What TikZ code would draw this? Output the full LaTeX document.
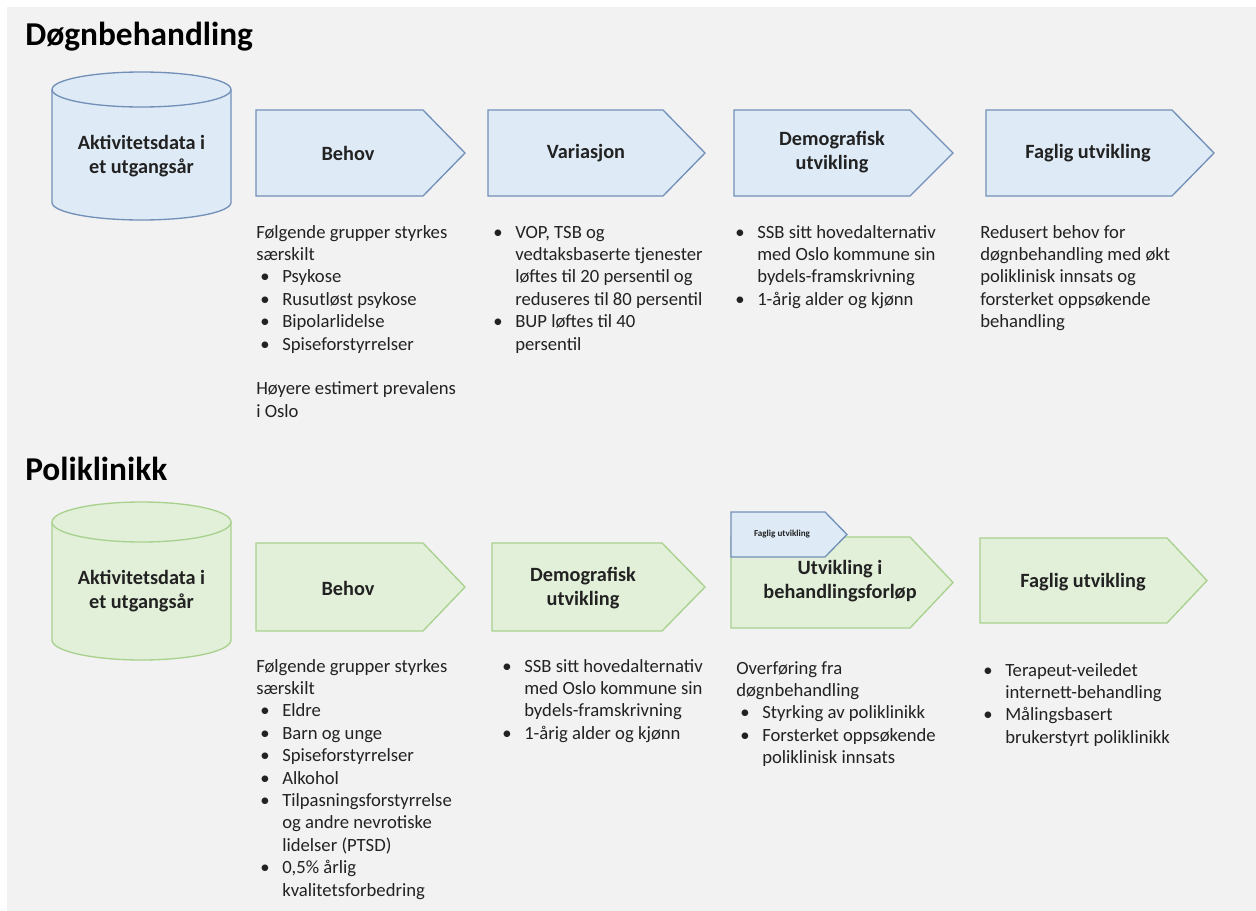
\documentclass[tikz,border=0pt]{standalone}
\usepackage{fontspec}
\setmainfont{Carlito}
\newdimen\pxu \pxu=0.75pt
\newcommand\bu[1]{\hspace*{4\pxu}\makebox[22\pxu][l]{\textbullet}#1}
\newcommand\co[1]{\hspace*{26\pxu}#1}
\newcommand\txt{\fontsize{14}{16.8}\selectfont}
\newcommand\labfont{\fontsize{15.2}{17.4}\selectfont\bfseries}
\definecolor{bfill}{HTML}{DEEBF7}
\definecolor{bline}{HTML}{7290B8}
\definecolor{gfill}{HTML}{E2F0D9}
\definecolor{gline}{HTML}{A9D18E}
\definecolor{bgc}{HTML}{F2F2F2}
\definecolor{ink}{HTML}{222222}
% chevron: style, x1, xshoulder, xtip, ytop, ybot
\newcommand\chev[6]{\draw[#1] (#2,#5) -- (#3,#5) -- (#4,{(#5+#6)/2}) -- (#3,#6) -- (#2,#6) -- cycle;}
% cylinder: style, cx, rx, ytopcenter, ybotcenter, ry
\newcommand\cyl[6]{%
  \draw[#1] ({#2-#3},#4) -- ({#2-#3},#5)
    .. controls ({#2-#3},{#5+0.5523*#6}) and ({#2-0.5523*#3},{#5+#6}) .. (#2,{#5+#6})
    .. controls ({#2+0.5523*#3},{#5+#6}) and ({#2+#3},{#5+0.5523*#6}) .. ({#2+#3},#5)
    -- ({#2+#3},#4);
  \draw[#1] ({#2-#3},#4)
    .. controls ({#2-#3},{#4-0.5523*#6}) and ({#2-0.5523*#3},{#4-#6}) .. (#2,{#4-#6})
    .. controls ({#2+0.5523*#3},{#4-#6}) and ({#2+#3},{#4-0.5523*#6}) .. ({#2+#3},#4)
    .. controls ({#2+#3},{#4+0.5523*#6}) and ({#2+0.5523*#3},{#4+#6}) .. (#2,{#4+#6})
    .. controls ({#2-0.5523*#3},{#4+#6}) and ({#2-#3},{#4+0.5523*#6}) .. ({#2-#3},#4) -- cycle;}
\tikzset{
  bshape/.style={fill=bfill, draw=bline, line width=1pt, line join=miter},
  gshape/.style={fill=gfill, draw=gline, line width=1pt, line join=miter},
  lab/.style={font=\labfont, align=center, inner sep=0pt, text=ink},
  tb/.style={anchor=base west, inner sep=0pt, font=\txt, text=ink},
  head/.style={anchor=base west, inner sep=0pt, font=\fontsize{25}{30}\selectfont\bfseries, text=black}
}
\begin{document}
\begin{tikzpicture}[x=0.75pt, y=-0.75pt]
\useasboundingbox (0,0) rectangle (1256,910);
\fill[white] (-5,-5) rectangle (1265,920);
\fill[bgc] (7,7) rectangle (1265,920);

% ---------- Døgnbehandling ----------
\node[head] (h1) at (25,45) {Døgnbehandling};
\cyl{bshape}{141.5}{89.5}{89.5}{202.5}{17.5}
\node[lab] (cylA) at (141.5,156) {Aktivitetsdata i\\et utgangsår};
\chev{bshape}{256}{423}{465}{110}{196}
\node[lab] (behovA) at (348,153) {Behov};
\chev{bshape}{488}{663}{705}{110}{196}
\node[lab] (varA) at (586,153) {Variasjon};
\chev{bshape}{734}{910}{953}{110}{196}
\node[lab] (demA) at (832,152) {Demografisk\\utvikling};
\chev{bshape}{986}{1172}{1214}{110}{196}
\node[lab] (fagA) at (1088,153) {Faglig utvikling};

\node[tb] (tA1) at (256,238) {\begin{tabular}[t]{@{}l@{}}
Følgende grupper styrkes\\
særskilt\\
\bu{Psykose}\\
\bu{Rusutløst psykose}\\
\bu{Bipolarlidelse}\\
\bu{Spiseforstyrrelser}\\
\\
Høyere estimert prevalens\\
i Oslo
\end{tabular}};
\node[tb] (tA2) at (489,238) {\begin{tabular}[t]{@{}l@{}}
\bu{VOP, TSB og}\\
\co{vedtaksbaserte tjenester}\\
\co{løftes til 20 persentil og}\\
\co{reduseres til 80 persentil}\\
\bu{BUP løftes til 40}\\
\co{persentil}
\end{tabular}};
\node[tb] (tA3) at (731,238) {\begin{tabular}[t]{@{}l@{}}
\bu{SSB sitt hovedalternativ}\\
\co{med Oslo kommune sin}\\
\co{bydels-framskrivning}\\
\bu{1-årig alder og kjønn}
\end{tabular}};
\node[tb] (tA4) at (980,238) {\begin{tabular}[t]{@{}l@{}}
Redusert behov for\\
døgnbehandling med økt\\
poliklinisk innsats og\\
forsterket oppsøkende\\
behandling
\end{tabular}};

% ---------- Poliklinikk ----------
\node[head] (h2) at (25,480) {Poliklinikk};
\cyl{gshape}{141.5}{89.5}{522}{640}{20}
\node[lab] (cylB) at (141.5,591) {Aktivitetsdata i\\et utgangsår};
\chev{gshape}{256}{423}{465}{543}{631}
\node[lab] (behovB) at (348,588) {Behov};
\chev{gshape}{492}{662}{705}{543}{631}
\node[lab] (demB) at (583,588) {Demografisk\\utvikling};
\chev{gshape}{731}{910}{953}{537}{628}
\node[lab] (utvB) at (840,581) {Utvikling i\\behandlingsforløp};
\chev{bshape}{731}{825}{847}{512}{557}
\node[lab, font=\fontsize{6.8}{8}\selectfont\bfseries] (fagS) at (782,534) {Faglig utvikling};
\chev{gshape}{980}{1167}{1207}{538}{623}
\node[lab] (fagB) at (1083,582) {Faglig utvikling};

\node[tb] (tB1) at (256,672) {\begin{tabular}[t]{@{}l@{}}
Følgende grupper styrkes\\
særskilt\\
\bu{Eldre}\\
\bu{Barn og unge}\\
\bu{Spiseforstyrrelser}\\
\bu{Alkohol}\\
\bu{Tilpasningsforstyrrelse}\\
\co{og andre nevrotiske}\\
\co{lidelser (PTSD)}\\
\bu{0,5\% årlig}\\
\co{kvalitetsforbedring}
\end{tabular}};
\node[tb] (tB2) at (498,672) {\begin{tabular}[t]{@{}l@{}}
\bu{SSB sitt hovedalternativ}\\
\co{med Oslo kommune sin}\\
\co{bydels-framskrivning}\\
\bu{1-årig alder og kjønn}
\end{tabular}};
\node[tb] (tB3) at (736,674) {\begin{tabular}[t]{@{}l@{}}
Overføring fra\\
døgnbehandling\\
\bu{Styrking av poliklinikk}\\
\bu{Forsterket oppsøkende}\\
\co{poliklinisk innsats}
\end{tabular}};
\node[tb] (tB4) at (979,676) {\begin{tabular}[t]{@{}l@{}}
\bu{Terapeut-veiledet}\\
\co{internett-behandling}\\
\bu{Målingsbasert}\\
\co{brukerstyrt poliklinikk}
\end{tabular}};
\end{tikzpicture}
\end{document}
